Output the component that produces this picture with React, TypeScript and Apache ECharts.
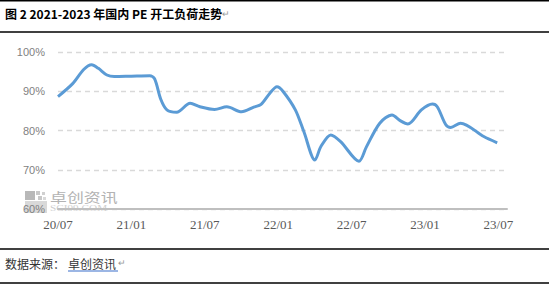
import React, { useEffect, useRef } from "react";
import * as echarts from "echarts";

// Month offsets counted from 2020-07 and the PE operating rate (%) at each one
const monthOffsets = [
  0, 1.2, 2.1, 2.75, 3.3, 4.0, 4.6, 6.0, 7.5, 7.9, 8.4, 8.9, 9.7, 10.8, 11.6,
  12.8, 13.8, 15.0, 16.0, 16.6, 17.3, 17.9, 18.4, 19.4, 20.1, 21.0, 21.5, 22.3,
  23.1, 24.6, 25.2, 26.3, 27.3, 28.0, 28.6, 29.7, 30.6, 31.0, 31.7, 32.1, 32.9,
  34.8, 35.9,
];
const loadRates = [
  88.7, 92.0, 95.6, 96.8, 95.9, 94.2, 93.8, 93.9, 94.0, 93.2, 88.0, 85.3, 84.7,
  87.0, 86.1, 85.4, 86.1, 84.8, 86.0, 86.7, 89.5, 91.2, 90.0, 85.3, 79.7, 72.5,
  76.0, 78.9, 77.2, 72.2, 75.8, 81.9, 84.0, 82.5, 81.7, 85.3, 86.8, 86.1, 81.5,
  80.8, 81.9, 78.5, 76.9,
];
const xTickLabels = ["20/07", "21/01", "21/07", "22/01", "22/07", "23/01", "23/07"];
const yTicks = [60, 70, 80, 90, 100];

const titleText = "图 2 2021-2023 年国内 PE 开工负荷走势";
const sourceLabel = "数据来源：";
const sourceName = "卓创资讯";

export default function App() {
  const ref = useRef<HTMLDivElement>(null);

  useEffect(() => {
    document.body.style.margin = "0";
    if (!ref.current) return;
    const chart = echarts.init(ref.current, null, { renderer: "svg" });

    const rule = (y: number) => ({
      type: "line",
      shape: { x1: 0, y1: y, x2: 549, y2: y },
      style: { stroke: "#000", lineWidth: 1.5 },
      silent: true,
    });

    chart.setOption({
      animation: false,
      backgroundColor: "#fff",
      grid: { left: 58, right: 42, top: 52.3, bottom: 79, containLabel: false },
      xAxis: {
        type: "value",
        min: 0,
        max: 36.7,
        interval: 6,
        axisLine: { show: true, lineStyle: { color: "#bfbfbf", width: 2 } },
        axisTick: { show: false },
        splitLine: { show: false },
        axisLabel: {
          color: "#595959",
          fontFamily: "Liberation Serif",
          fontSize: 13,
          margin: 9,
          formatter: (v: number) => {
            const k = Math.round(v / 6);
            return Math.abs(v - k * 6) < 1e-6 && xTickLabels[k] ? xTickLabels[k] : "";
          },
        },
      },
      yAxis: {
        type: "value",
        min: yTicks[0],
        max: yTicks[yTicks.length - 1],
        interval: 10,
        axisLine: { show: false },
        axisTick: { show: false },
        axisLabel: {
          color: "#7f7f7f",
          fontFamily: "Liberation Sans Narrow, Liberation Sans",
          fontSize: 11,
          margin: 13,
          formatter: "{value}%",
        },
        splitLine: {
          show: true,
          lineStyle: { color: "#d9d9d9", type: [5, 4], width: 1.3 },
        },
      },
      series: [
        {
          type: "line",
          data: monthOffsets.map((m, i) => [m, loadRates[i]]),
          smooth: 0.3,
          showSymbol: false,
          lineStyle: { color: "#5b9bd5", width: 3 },
          z: 3,
        },
      ],
      graphic: [
        rule(0.75),
        rule(32),
        rule(249),
        rule(283),
        {
          type: "text",
          x: 5,
          y: 13.5,
          style: {
            text: titleText,
            fontFamily: "Noto Sans CJK SC",
            fontWeight: "bold",
            fontSize: 12,
            fill: "#000",
            verticalAlign: "middle",
          },
        },
        {
          type: "text",
          x: 222,
          y: 14,
          style: { text: "↵", fontSize: 9, fill: "#999", verticalAlign: "middle" },
        },
        // watermark logo
        {
          type: "group",
          silent: true,
          z: 1,
          children: [
            { type: "rect", shape: { x: 25, y: 191, width: 10, height: 9 }, style: { fill: "#b8b8b8" } },
            { type: "rect", shape: { x: 36, y: 191, width: 4, height: 4 }, style: { fill: "#c8c8c8" } },
            { type: "rect", shape: { x: 42, y: 192, width: 3, height: 3 }, style: { fill: "#d0d0d0" } },
            { type: "rect", shape: { x: 38, y: 196, width: 4, height: 4 }, style: { fill: "#c8c8c8" } },
            { type: "rect", shape: { x: 43, y: 197, width: 3, height: 3 }, style: { fill: "#d8d8d8" } },
            { type: "rect", shape: { x: 25, y: 201, width: 22, height: 12 }, style: { fill: "#d9d9d9" } },
            {
              type: "text",
              x: 50,
              y: 196.5,
              scaleX: 1.3,
              style: {
                text: "卓创资讯",
                fontFamily: "Noto Sans CJK SC",
                fontSize: 13,
                fill: "#b3b3b3",
                verticalAlign: "middle",
              },
            },
            {
              type: "text",
              x: 50,
              y: 207.5,
              scaleX: 1.25,
              style: {
                text: "SCI99.COM",
                fontFamily: "Liberation Serif",
                fontSize: 9,
                fill: "#cfcfcf",
                verticalAlign: "middle",
              },
            },
          ],
        },
        {
          type: "text",
          x: 5,
          y: 263,
          style: {
            text: sourceLabel,
            fontFamily: "Noto Sans CJK SC",
            fontSize: 12,
            fill: "#333",
            verticalAlign: "middle",
          },
        },
        {
          type: "text",
          x: 68,
          y: 263,
          style: {
            text: sourceName,
            fontFamily: "Noto Sans CJK SC",
            fontSize: 12,
            fill: "#333",
            verticalAlign: "middle",
          },
        },
        {
          type: "line",
          shape: { x1: 68, y1: 271, x2: 118, y2: 271 },
          style: { stroke: "#3a6fc9", lineWidth: 1.2 },
        },
        {
          type: "text",
          x: 118,
          y: 263,
          style: { text: "↵", fontSize: 9, fill: "#999", verticalAlign: "middle" },
        },
      ],
    });

    return () => chart.dispose();
  }, []);

  return <div ref={ref} style={{ width: 549, height: 288 }} />;
}
